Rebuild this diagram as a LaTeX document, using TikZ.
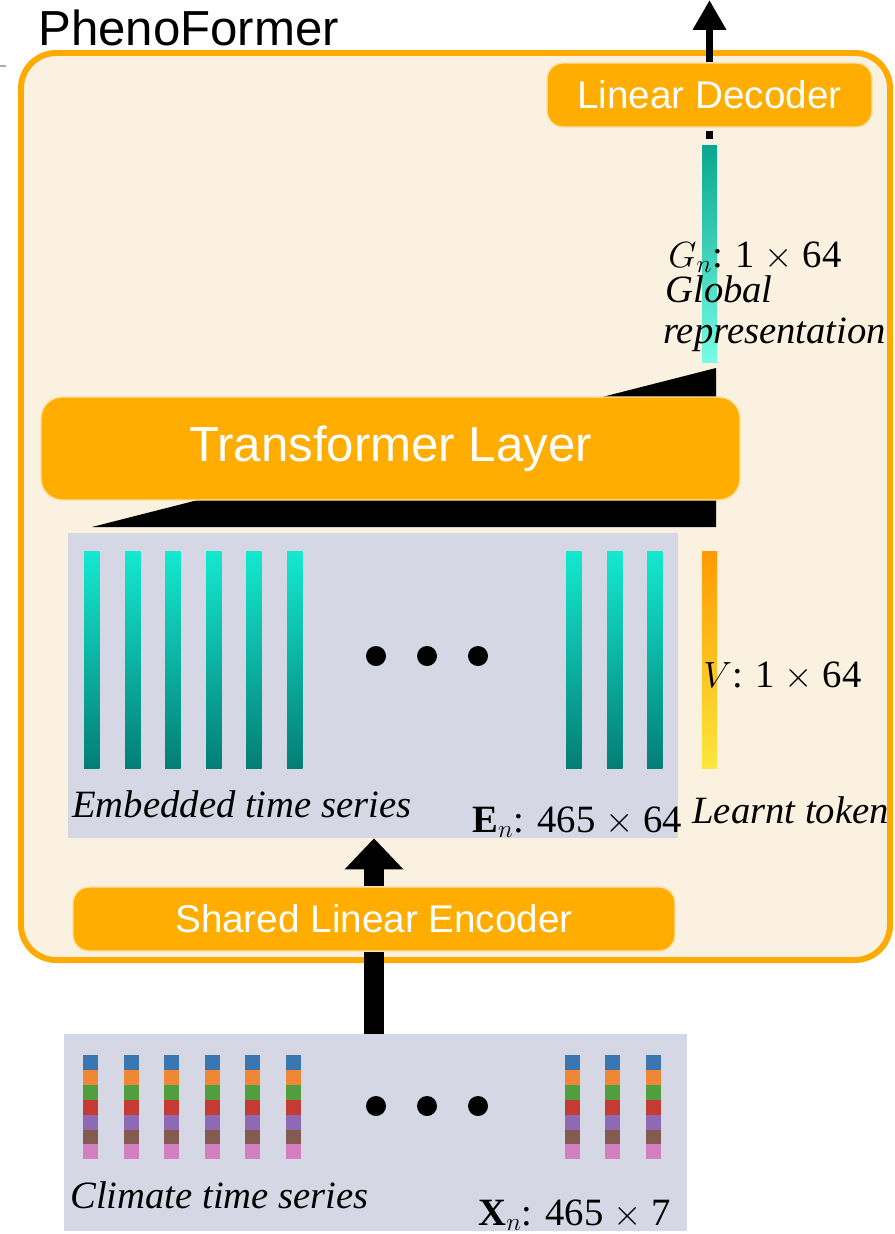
\documentclass[tikz,border=0pt]{standalone}
\usepackage{fontspec}
\setmainfont{Liberation Serif}
\setsansfont{Liberation Sans}
\usetikzlibrary{arrows.meta,fit}

\definecolor{pfOrange}{HTML}{FFAD00}
\definecolor{pfEdge}{HTML}{FFAA00}
\definecolor{pfCream}{HTML}{FBF1E0}
\definecolor{pfGrey}{HTML}{D5D8E4}
\definecolor{pfStub}{HTML}{A6AAB8}
\definecolor{embTop}{HTML}{14E9D0}
\definecolor{embBot}{HTML}{037E76}
\definecolor{globTop}{HTML}{08A78F}
\definecolor{globBot}{HTML}{77FCE5}
\definecolor{tokTop}{HTML}{FF9A00}
\definecolor{tokBot}{HTML}{FBE63C}
% one colour per climate variable
\definecolor{cvA}{HTML}{3A76AF}
\definecolor{cvB}{HTML}{EF8737}
\definecolor{cvC}{HTML}{519E3E}
\definecolor{cvD}{HTML}{C43B34}
\definecolor{cvE}{HTML}{8E6AB5}
\definecolor{cvF}{HTML}{845B50}
\definecolor{cvG}{HTML}{D47FBF}

\tikzset{
  frame/.style={draw=pfEdge, line width=3.4pt, fill=pfCream, rounded corners=20pt, inner sep=0pt},
  block/.style={draw=white!65!pfOrange, line width=0.8pt, fill=pfOrange, inner sep=0pt},
  blocktext/.style={text=white, inner sep=0pt, font=\sffamily\fontsize{#1}{#1}\selectfont},
  panel/.style={fill=pfGrey, inner sep=0pt},
  caption/.style={font=\itshape\fontsize{22}{24}\selectfont, anchor=base west, inner sep=0pt},
  dims/.style={font=\fontsize{22}{24}\selectfont, anchor=base west, inner sep=0pt},
  fatarrow/.style={line width=11.3pt, -{Triangle[width=32.3pt,length=17.6pt]}},
  thinarrow/.style={line width=4.5pt, -{Triangle[width=18pt,length=17pt]}},
}

\begin{document}
\begin{tikzpicture}[x=0.02cm, y=-0.02cm]
\useasboundingbox (0,0) rectangle (895,1234);

% model frame
\node[frame, fit={(21,53) (890,960)}] (pheno) {};
\node[anchor=base west, inner sep=0pt, font=\sffamily\fontsize{28}{30}\selectfont] (name) at (38,45) {PhenoFormer};
\draw[pfStub, line width=1.3pt] (0,66) -- (6,66);

% attention fan behind the transformer
\fill (716,368) -- (716,527) -- (92,527) -- cycle;

\node[block, rounded corners=12pt, fit={(41,397) (740,500)},
  label={[blocktext=28]center:Transformer Layer}] (trans) {};
\node[block, rounded corners=9pt, fit={(547,63) (872,127)},
  label={[blocktext=22]center:Linear Decoder}] (dec) {};
\node[block, rounded corners=9pt, fit={(73,887) (675,951)},
  label={[blocktext=22]center:Shared Linear Encoder}] (enc) {};

% tokens
\node[panel, fit={(68,533) (678,838)}] (emb) {};
\foreach \x in {84,125,165,206,246,287,566,607,647}
  \shade[top color=embTop, bottom color=embBot] (\x,551) rectangle ++(15.5,217);
\node[inner sep=0pt, top color=tokTop, bottom color=tokBot, fit={(702,551) (717,768)}] (tok) {};
\node[inner sep=0pt, top color=globTop, bottom color=globBot, fit={(702,145) (717,362)}] (glob) {};

% inputs
\node[panel, fit={(64,1034) (687,1231)}] (clim) {};
\foreach \x in {83,124,164,205,245,286,565,605,646}
  \foreach \c [count=\i from 0] in {cvA,cvB,cvC,cvD,cvE,cvF,cvG}
    \fill[\c] ({\x},{1055+\i*14.9}) rectangle ++(15,14.9);

\foreach \x in {376,427,478} {
  \fill (\x,656) circle[radius=10];
  \fill (\x,1106) circle[radius=10];
}

% labels
\node[caption] (embtxt) at (72,817) {Embedded time series};
\node[dims] (embdim) at (472,832) {$\mathbf{E}_n$: 465 $\times$ 64};
\node[caption] (toktxt) at (692,823) {Learnt token};
\node[dims] (tokdim) at (703,687) {$V$: 1 $\times$ 64};
\node[dims] (globdim) at (668,267) {$G_n$: 1 $\times$ 64};
\node[caption] (globtxt) at (665,302) {Global};
\node[caption] (globtxt2) at (663,343) {representation};
\node[caption] (climtxt) at (70,1208) {Climate time series};
\node[dims] (climdim) at (478,1225) {$\mathbf{X}_n$: 465 $\times$ 7};

% connectors
\coordinate (out) at (dec.north |- 0,0);
\draw[thinarrow] (dec.north) -- (out);
\draw[line width=4.5pt, shorten <=3.4pt, shorten >=1.7pt] (glob.north) -- (dec.south);
\draw[fatarrow] (enc.north) -- (enc.north |- emb.south);
\draw[line width=11.3pt] (enc.south |- clim.north) -- (enc.south);

\end{tikzpicture}
\end{document}
